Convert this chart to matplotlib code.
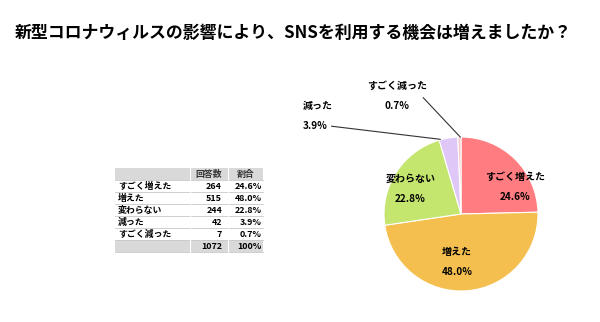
import numpy as np
import matplotlib.pyplot as plt
from matplotlib.patches import Rectangle

plt.rcParams['font.family'] = ['Noto Sans CJK JP', 'DejaVu Sans']

categories = ['すごく増えた', '増えた', '変わらない', '減った', 'すごく減った']
counts = [264, 515, 244, 42, 7]
colors = ['#FF7C80', '#F5BF50', '#C4E56E', '#DFC8F7', '#F4C8C8']
col_headers = ['回答数', '割合']
title = '新型コロナウィルスの影響により、SNSを利用する機会は増えましたか？'

total = sum(counts)
shares = [c / total * 100 for c in counts]

W, H = 600, 322
fig = plt.figure(figsize=(W / 100, H / 100), dpi=100)

# overlay in pixel coordinates for title and table
bg = fig.add_axes([0, 0, 1, 1])
bg.set_xlim(0, W)
bg.set_ylim(H, 0)
bg.axis('off')

bg.text(15, 33, title, fontsize=12.2, fontweight='bold', va='center', ha='left')

# --- table ---
x0, x1, x2, x3 = 115, 190, 228, 263
y_top, row_h = 168, 12
n_rows = len(categories) + 2
grey = '#D9D9D9'
for r in range(n_rows):
    y = y_top + r * row_h
    if r == 0 or r == n_rows - 1:
        bg.add_patch(Rectangle((x0, y), x3 - x0, row_h, facecolor=grey, edgecolor='none'))
    bg.plot([x0, x3], [y + row_h, y + row_h], color='#C8C8C8', lw=0.6)
for xv in (x1, x2):
    bg.plot([xv, xv], [y_top, y_top + n_rows * row_h], color='white', lw=0.8)

tfs = 6.4
bg.text((x1 + x2) / 2, y_top + row_h / 2, col_headers[0], fontsize=tfs, fontweight='bold',
        ha='center', va='center', color='#333333')
bg.text((x2 + x3) / 2, y_top + row_h / 2, col_headers[1], fontsize=tfs, fontweight='bold',
        ha='center', va='center', color='#333333')
for i, (cat, c, s) in enumerate(zip(categories, counts, shares)):
    yc = y_top + (i + 1.5) * row_h
    bg.text(x0 + 3, yc, cat, fontsize=tfs, fontweight='bold', ha='left', va='center')
    bg.text(x2 - 6, yc, f'{c}', fontsize=tfs, fontweight='bold', ha='right', va='center')
    bg.text(x3 - 1, yc, f'{s:.1f}%', fontsize=tfs, fontweight='bold', ha='right', va='center')
yc = y_top + (n_rows - 0.5) * row_h
bg.text(x2 - 6, yc, f'{total}', fontsize=tfs, fontweight='bold', ha='right', va='center')
bg.text(x3 - 1, yc, '100%', fontsize=tfs, fontweight='bold', ha='right', va='center')

# --- pie ---
cx, cy, rad = 461, 214, 77
box = 3.0 * rad
ax = fig.add_axes([(cx - box) / W, (H - cy - box) / H, 2 * box / W, 2 * box / H])
ax.pie(counts, colors=colors, startangle=90, counterclock=False, radius=1,
       wedgeprops=dict(edgecolor='white', linewidth=0.8))
ax.set_xlim(-3, 3)
ax.set_ylim(-3, 3)
ax.set_aspect('equal')
ax.axis('off')

# label positions in units of the pie radius
label_pos = [(0.70, 0.35), (-0.05, -0.62), (-0.66, 0.32), (-2.05, 1.27), (-0.83, 1.53)]
label_ha = ['center', 'center', 'center', 'left', 'center']
lfs = 7.2
for cat, s, (lx, ly), ha in zip(categories, shares, label_pos, label_ha):
    ax.text(lx, ly, f'{cat}\n\n{s:.1f}%', fontsize=lfs, fontweight='bold',
            ha=ha, va='center', linespacing=1.0)

# leader lines for the thin slices
ax.plot([-1.68, -0.27], [1.14, 0.97], color='#333333', lw=0.8)
ax.plot([-0.49, -0.01], [1.51, 1.0], color='#333333', lw=0.8)

fig.savefig('out.png', dpi=100)
